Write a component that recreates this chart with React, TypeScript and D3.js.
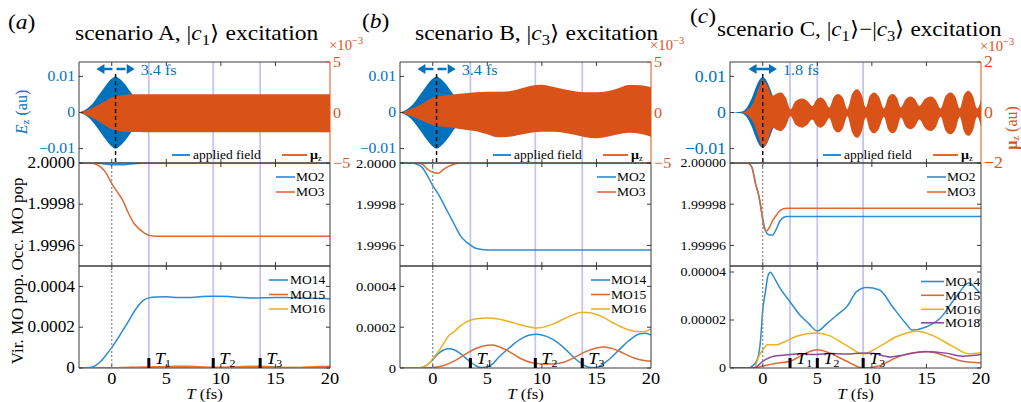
import React from 'react';
import * as d3 from 'd3';

const FONT = "'Liberation Serif','Times New Roman',Times,serif";
const BLUE = '#0072BD';
const ORANGE = '#D95319';
const L_BLUE = '#2f8bd2';
const L_ORANGE = '#dd6a36';
const L_YELLOW = '#EDB120';
const L_PURPLE = '#8a4a9e';
const LAVENDER = '#c2c2f4';
const AX = '#3a3a3a';

// ---------------- data ----------------
const T_DOMAIN = [-3, 20];
const X_TICKS = [0, 5, 10, 15, 20];
const X_TICK_LABELS = ['0', '5', '10', '15', '20'];

const E_TICKS = [-0.01, 0, 0.01];
const E_TICK_LABELS = ['\u22120.01', '0', '0.01'];
const MU_TICKS_AB = [-5, 0, 5];
const MU_TICK_LABELS_AB = ['\u22125', '0', '5'];
const MU_TICKS_C = [-2, 0, 2];
const MU_TICK_LABELS_C = ['\u22122', '0', '2'];
const OCC_TICKS_AB = [1.9996, 1.9998, 2.0];
const OCC_TICK_LABELS_AB = ['1.9996', '1.9998', '2.0000'];
const OCC_TICKS_C = [1.99996, 1.99998, 2.0];
const OCC_TICK_LABELS_C = ['1.99996', '1.99998', '2.00000'];
const VIR_TICKS_AB = [0, 0.0002, 0.0004];
const VIR_TICK_LABELS_AB = ['0', '0.0002', '0.0004'];
const VIR_TICKS_C = [0, 0.00002, 0.00004];
const VIR_TICK_LABELS_C = ['0', '0.00002', '0.00004'];

// applied-field envelopes (au)
const FIELD_T_AB = [-3, -2.5, -2, -1.5, -1, -0.5, 0, 0.35, 0.7, 1.2, 1.7, 2.2, 2.7, 3.2, 3.7, 20];
const FIELD_ENV_AB = [0, 0.0006, 0.0017, 0.0035, 0.0056, 0.0077, 0.0094, 0.01, 0.0094, 0.0079, 0.0058, 0.0037, 0.0019, 0.0007, 0, 0];
const FIELD_T_C = [-3, -2, -1.5, -1, -0.75, -0.5, -0.25, 0, 0.25, 0.5, 0.75, 1, 1.5, 2, 3, 20];
const FIELD_ENV_C = [0, 0.0002, 0.0012, 0.004, 0.006, 0.0079, 0.0093, 0.0098, 0.0093, 0.0079, 0.006, 0.004, 0.0012, 0.0002, 0, 0];

// dipole envelopes (x 1e-3 au)
const MU_T_A = [-3, -2.5, -2, -1.5, -1, -0.5, 0, 0.5, 1, 1.5, 2, 3, 5, 10, 15, 20];
const MU_UP_A = [0, 0.15, 0.35, 0.6, 0.9, 1.2, 1.5, 1.65, 1.74, 1.78, 1.8, 1.8, 1.8, 1.8, 1.8, 1.8];
const MU_LO_A = [0, -0.18, -0.42, -0.7, -1.02, -1.35, -1.65, -1.8, -1.88, -1.92, -1.94, -1.95, -1.95, -1.95, -1.95, -1.95];

const MU_T_B = [-3, -2, -1, 0, 1, 2, 3, 4, 5, 6, 7, 8, 9, 10, 11, 12, 13, 14, 15, 16, 17, 18, 19, 20];
const MU_UP_B = [0, 0.35, 0.85, 1.45, 1.7, 1.8, 1.9, 2.0, 2.05, 2.05, 2.1, 2.35, 2.65, 2.75, 2.55, 2.3, 2.1, 2.0, 2.0, 2.1, 2.4, 2.72, 2.7, 2.5];
const MU_LO_B = [0, -0.35, -0.8, -1.25, -1.4, -1.55, -1.7, -1.85, -2.15, -2.45, -2.4, -2.2, -2.0, -1.9, -1.9, -2.0, -2.2, -2.45, -2.55, -2.4, -2.15, -2.0, -2.1, -2.4];

const MU_T_C = [-3, -2, -1.4, -0.8, -0.35, 0, 0.45, 0.9, 1.25, 1.65, 2.1, 2.55, 3.0, 3.6, 4.1, 4.55, 4.9, 5.3, 5.7, 6.1, 6.5, 6.9, 7.35, 7.75, 8.2, 8.65, 9.05, 9.45, 9.8, 10.2, 10.65, 11.1, 11.5, 11.9, 12.3, 12.65, 13.1, 13.55, 13.95, 14.35, 14.85, 15.4, 15.85, 16.3, 16.75, 17.2, 17.65, 18.05, 18.45, 18.85, 19.25, 19.65, 20];
const MU_UP_C = [0, 0, 0.1, 0.46, 0.99, 1.29, 1.05, 0.66, 0.74, 0.79, 0.6, 0.13, 0.45, 0.55, 0.45, 0.26, 0.5, 0.59, 0.48, 0.2, 0.6, 0.73, 0.58, 0.13, 0.75, 0.92, 0.72, 0.2, 0.65, 0.79, 0.62, 0.16, 0.6, 0.73, 0.58, 0.2, 0.52, 0.63, 0.52, 0.26, 0.53, 0.63, 0.5, 0.16, 0.65, 0.79, 0.62, 0.16, 0.7, 0.86, 0.66, 0.16, 0.5];
const MU_LO_C = [0, 0, -0.1, -0.46, -1.0, -1.39, -1.15, -0.6, -0.68, -0.73, -0.55, -0.15, -0.48, -0.6, -0.48, -0.28, -0.5, -0.6, -0.48, -0.22, -0.65, -0.79, -0.62, -0.15, -0.8, -1.0, -0.78, -0.2, -0.68, -0.82, -0.64, -0.17, -0.68, -0.82, -0.65, -0.2, -0.55, -0.66, -0.55, -0.28, -0.6, -0.73, -0.58, -0.17, -0.72, -0.86, -0.68, -0.17, -0.75, -0.92, -0.72, -0.17, -0.55];

// occupied MO populations
const OCC_T_AB = [-3, -2, -1.5, -1, -0.5, 0, 0.5, 1, 1.5, 2, 2.5, 3, 3.5, 4, 5, 8, 12, 16, 20];
const A_MO2 = [2, 2, 2, 1.999997, 1.999994, 1.999992, 1.999991, 1.999992, 1.999994, 1.999996, 1.999998, 2, 2, 2, 2, 2, 2, 2, 2];
const A_MO3 = [2, 2, 1.999995, 1.99998, 1.99995, 1.9999, 1.99986, 1.99982, 1.99976, 1.99971, 1.99968, 1.99966, 1.999648, 1.999645, 1.999645, 1.999645, 1.999645, 1.999645, 1.999645];
const B_MO2 = [2, 2, 1.999995, 1.99998, 1.99994, 1.99989, 1.99985, 1.9998, 1.99975, 1.9997, 1.99965, 1.99962, 1.9996, 1.999585, 1.999578, 1.999578, 1.999578, 1.999578, 1.999578];
const B_MO3 = [2, 2, 2, 1.999995, 1.99997, 1.999955, 1.99995, 1.99997, 1.999985, 1.999995, 2, 2, 2, 2, 2, 2, 2, 2, 2];
const OCC_T_C = [-3, -2, -1.4, -1, -0.66, -0.4, -0.2, 0, 0.15, 0.35, 0.64, 0.9, 1.16, 1.6, 2.2, 3, 5, 10, 15, 20];
const C_MO2 = [2, 2, 2, 1.999998, 1.99999, 1.999985, 1.999979, 1.999973, 1.999969, 1.999966, 1.999965, 1.999965, 1.999967, 1.999972, 1.999974, 1.999974, 1.999974, 1.999974, 1.999974, 1.999974];
const C_MO3 = [2, 2, 2, 1.999998, 1.99999, 1.999985, 1.99998, 1.999972, 1.999968, 1.999967, 1.999969, 1.999972, 1.999974, 1.999977, 1.999978, 1.999978, 1.999978, 1.999978, 1.999978, 1.999978];

// virtual MO populations
const VIR_T_A = [-3, -2, -1.5, -1, -0.5, 0, 0.5, 1, 1.5, 2, 2.5, 3, 3.5, 4, 5, 6, 7, 8, 9, 10, 11, 12, 13, 14, 15, 16, 17, 18, 19, 20];
const A_MO14 = [0, 0.000003, 0.000012, 0.000033, 0.000065, 0.0001, 0.00014, 0.000183, 0.000226, 0.000272, 0.00031, 0.000335, 0.000345, 0.000348, 0.000349, 0.000346, 0.000345, 0.000349, 0.000352, 0.000352, 0.000349, 0.000345, 0.000343, 0.000344, 0.000346, 0.000345, 0.000344, 0.000342, 0.000341, 0.00034];
const A_MO15 = [0, 0, 0, 0, 0, 0, 0.000001, 0.000002, 0.000003, 0.000004, 0.000004, 0.000005, 0.000005, 0.000006, 0.000007, 0.000008, 0.000008, 0.000006, 0.000004, 0.000004, 0.000005, 0.000007, 0.000008, 0.000007, 0.000005, 0.000003, 0.000003, 0.000005, 0.000007, 0.000008];
const A_MO16 = [0, 0, 0, 0, 0, 0, 0.000001, 0.000001, 0.000002, 0.000002, 0.000002, 0.000003, 0.000003, 0.000003, 0.000003, 0.000002, 0.000002, 0.000003, 0.000003, 0.000002, 0.000002, 0.000003, 0.000003, 0.000002, 0.000002, 0.000003, 0.000003, 0.000002, 0.000002, 0.000003];

const B_MO14_T = [-3, -2, -1, -0.5, 0, 0.5, 1, 1.5, 2, 2.5, 3, 3.5, 4, 4.5, 5, 5.5, 6, 7, 8, 9, 9.5, 10, 11, 12, 13, 14, 14.5, 15, 16, 17, 18, 19, 19.5, 20];
const B_MO14 = [0, 0, 0.000003, 0.000015, 0.00004, 0.00007, 0.000088, 0.000094, 0.000088, 0.000072, 0.00005, 0.000028, 0.00001, 0.000002, 0.000006, 0.00002, 0.00005, 0.000098, 0.00014, 0.000163, 0.000165, 0.000162, 0.00014, 0.0001, 0.000048, 0.00001, 0.000002, 0.000003, 0.000035, 0.000085, 0.000135, 0.000168, 0.00017, 0.000162];
const B_MO15_T = [-3, -1, -0.5, 0, 1, 2, 3, 4, 5, 5.5, 6, 7, 8, 9, 10, 11, 12, 13, 14, 15, 15.7, 16.5, 17.5, 18.5, 19.5, 20];
const B_MO15 = [0, 0, 0, 0.000002, 0.000012, 0.000035, 0.000068, 0.000097, 0.000112, 0.000113, 0.000105, 0.00008, 0.000048, 0.000027, 0.00002, 0.00002, 0.000028, 0.000052, 0.00008, 0.000098, 0.000103, 0.000095, 0.000072, 0.000048, 0.000036, 0.000034];
const B_MO16_T = [-3, -2, -1, -0.5, 0, 0.5, 1, 1.5, 2, 2.5, 3, 3.5, 4, 5, 6, 7, 8, 9, 9.5, 10, 11, 12, 13, 13.7, 14.5, 15.5, 16.5, 17.5, 18.5, 19.3, 20];
const B_MO16 = [0, 0, 0.000003, 0.000015, 0.000045, 0.00008, 0.00012, 0.00016, 0.00018, 0.000205, 0.000222, 0.000235, 0.000242, 0.000245, 0.00024, 0.000228, 0.000212, 0.0002, 0.000196, 0.000198, 0.000215, 0.00024, 0.000264, 0.000273, 0.00027, 0.000252, 0.000222, 0.000196, 0.00018, 0.000178, 0.00019];

const C_MO14_T = [-3, -1.4, -1, -0.5, -0.2, 0, 0.25, 0.46, 0.7, 1.16, 1.6, 2.5, 3.4, 4.2, 5, 5.9, 6.8, 7.7, 8.6, 9.5, 10.7, 11.9, 13.1, 13.7, 14.9, 16.2, 17.7, 18.9, 19.8, 20];
const C_MO14 = [0, 0, 0.0000007, 0.0000035, 0.0000117, 0.0000242, 0.0000318, 0.000038, 0.0000399, 0.0000367, 0.0000332, 0.0000276, 0.0000221, 0.0000186, 0.0000154, 0.0000186, 0.0000221, 0.0000255, 0.0000318, 0.0000335, 0.0000325, 0.0000255, 0.0000186, 0.0000158, 0.000017, 0.0000205, 0.0000295, 0.0000354, 0.0000318, 0.000031];
const C_MO15_T = [-3, -0.8, 0, 1, 2.5, 4, 5, 6.1, 7.7, 9.2, 10.7, 12.2, 13.7, 15.2, 16.8, 18.3, 20];
const C_MO15 = [0, 0, 0.0000008, 0.0000018, 0.0000028, 0.0000063, 0.0000076, 0.0000063, 0.0000028, 0, 0.000001, 0.0000042, 0.0000063, 0.0000068, 0.0000049, 0.0000028, 0.0000021];
const C_MO16_T = [-3, -0.8, -0.35, 0, 0.46, 1.3, 1.9, 3.1, 4.9, 6.1, 7.7, 9.2, 10.7, 12.2, 14.1, 15.6, 17.4, 18.9, 20];
const C_MO16 = [0, 0, 0.0000049, 0.0000076, 0.0000097, 0.0000097, 0.0000107, 0.0000132, 0.0000146, 0.0000135, 0.0000093, 0.0000058, 0.000009, 0.0000129, 0.0000153, 0.0000135, 0.000009, 0.0000059, 0.0000065];
const C_MO18_T = [-3, -0.8, 0, 1, 1.9, 3.1, 4.9, 6.1, 7.7, 9.2, 10.2, 11.7, 13.1, 14.9, 16.8, 18.3, 20];
const C_MO18 = [0, 0, 0.0000028, 0.0000049, 0.0000053, 0.0000058, 0.0000056, 0.000006, 0.0000058, 0.0000063, 0.000006, 0.0000046, 0.0000056, 0.0000069, 0.0000062, 0.0000049, 0.0000056];

// characteristic times T1, T2, T3 (fs)
const T_MARKS_A = [3.4, 9.3, 13.6];
const T_MARKS_B = [3.45, 9.4, 13.7];
const T_MARKS_C = [2.5, 5.0, 9.2];

// ---------------- layout ----------------
const W = 1021;
const H = 402;
const PW = 251;
const Y1 = [62, 163];
const Y2 = [163, 266];
const Y3 = [266, 368];

type S = { t: number[]; v: number[]; color: string; name: string };

function Txt(props: any) {
  const { x, y, size, anchor = 'start', sx = 1.08, fill = '#000', children, base = 'central', italic, weight } = props;
  return (
    <text
      transform={`translate(${x},${y}) scale(${sx},1)`}
      fontSize={size}
      textAnchor={anchor}
      fill={fill}
      fontFamily={FONT}
      dominantBaseline={base}
      fontStyle={italic ? 'italic' : undefined}
      fontWeight={weight}
    >
      {children}
    </text>
  );
}

const PANELS = [
  {
    id: 'a', left: 79, label: '(a)', labelX: 8, labelY: 29, titleX: 75, titleY: 40, titleSx: 1.12, multY: 50,
    title: 'A', fieldT: FIELD_T_AB, fieldEnv: FIELD_ENV_AB, peak: 0.35, arrowHalf: 1.75, dashedArrow: true, fwhm: '3.4 fs',
    muT: MU_T_A, muUp: MU_UP_A, muLo: MU_LO_A, muMax: 5, muTicks: MU_TICKS_AB, muLabels: MU_TICK_LABELS_AB,
    occDomain: [1.9995, 2.0], occTicks: OCC_TICKS_AB, occLabels: OCC_TICK_LABELS_AB,
    occ: [{ t: OCC_T_AB, v: A_MO2, color: L_BLUE, name: 'MO2' }, { t: OCC_T_AB, v: A_MO3, color: L_ORANGE, name: 'MO3' }],
    virDomain: [0, 0.0005], virTicks: VIR_TICKS_AB, virLabels: VIR_TICK_LABELS_AB,
    vir: [{ t: VIR_T_A, v: A_MO14, color: L_BLUE, name: 'MO14' }, { t: VIR_T_A, v: A_MO15, color: L_ORANGE, name: 'MO15' }, { t: VIR_T_A, v: A_MO16, color: L_YELLOW, name: 'MO16' }],
    marks: T_MARKS_A, leftTitles: true, rightTitle: false, legY: [280, 294.5, 309], legText: 40, legLine: [61, 42],
    fsTop: 14.5, fsRight: 15, fsMid: 16,
  },
  {
    id: 'b', left: 400, label: '(b)', labelX: 362, labelY: 28, titleX: 415, titleY: 40, titleSx: 1.12, multY: 50,
    title: 'B', fieldT: FIELD_T_AB, fieldEnv: FIELD_ENV_AB, peak: 0.35, arrowHalf: 1.75, dashedArrow: true, fwhm: '3.4 fs',
    muT: MU_T_B, muUp: MU_UP_B, muLo: MU_LO_B, muMax: 5, muTicks: MU_TICKS_AB, muLabels: MU_TICK_LABELS_AB,
    occDomain: [1.9995, 2.0], occTicks: OCC_TICKS_AB, occLabels: OCC_TICK_LABELS_AB,
    occ: [{ t: OCC_T_AB, v: B_MO2, color: L_BLUE, name: 'MO2' }, { t: OCC_T_AB, v: B_MO3, color: L_ORANGE, name: 'MO3' }],
    virDomain: [0, 0.0005], virTicks: VIR_TICKS_AB, virLabels: VIR_TICK_LABELS_AB,
    vir: [{ t: B_MO14_T, v: B_MO14, color: L_BLUE, name: 'MO14' }, { t: B_MO15_T, v: B_MO15, color: L_ORANGE, name: 'MO15' }, { t: B_MO16_T, v: B_MO16, color: L_YELLOW, name: 'MO16' }],
    marks: T_MARKS_B, leftTitles: false, rightTitle: false, legY: [280, 294.5, 309], legText: 40, legLine: [60, 41],
    fsTop: 14.5, fsRight: 15, fsMid: 13.5,
  },
  {
    id: 'c', left: 730, label: '(c)', labelX: 690, labelY: 23, titleX: 717, titleY: 36, titleSx: 1.1, multY: 51,
    title: 'C', fieldT: FIELD_T_C, fieldEnv: FIELD_ENV_C, peak: 0, arrowHalf: 1.3, dashedArrow: false, fwhm: '1.8 fs',
    muT: MU_T_C, muUp: MU_UP_C, muLo: MU_LO_C, muMax: 2, muTicks: MU_TICKS_C, muLabels: MU_TICK_LABELS_C,
    occDomain: [1.99995, 2.0], occTicks: OCC_TICKS_C, occLabels: OCC_TICK_LABELS_C,
    occ: [{ t: OCC_T_C, v: C_MO2, color: L_BLUE, name: 'MO2' }, { t: OCC_T_C, v: C_MO3, color: L_ORANGE, name: 'MO3' }],
    virDomain: [0, 0.0000425], virTicks: VIR_TICKS_C, virLabels: VIR_TICK_LABELS_C,
    vir: [{ t: C_MO14_T, v: C_MO14, color: L_BLUE, name: 'MO14' }, { t: C_MO15_T, v: C_MO15, color: L_ORANGE, name: 'MO15' }, { t: C_MO16_T, v: C_MO16, color: L_YELLOW, name: 'MO16' }, { t: C_MO18_T, v: C_MO18, color: L_PURPLE, name: 'MO18' }],
    marks: T_MARKS_C, leftTitles: false, rightTitle: true, legY: [281.5, 295.3, 309.3, 322.8], legText: 36, legLine: [60, 37],
    fsTop: 16.5, fsRight: 16.5, fsMid: 13,
  },
];

function Title({ p }: any) {
  const s = 21;
  const sub = (n: string) => [
    <tspan key={'a' + n} dy={5} fontSize={15}>{n}</tspan>,
    <tspan key={'b' + n} dy={-5}>{'\u27E9'}</tspan>,
  ];
  return (
    <g>
      <Txt x={p.labelX} y={p.labelY} size={s} base="alphabetic" sx={1.12} italic={false}>
        (<tspan fontStyle="italic">{p.label[1]}</tspan>)
      </Txt>
      <Txt x={p.titleX} y={p.titleY} size={s} base="alphabetic" sx={p.titleSx}>
        {p.id === 'c' ? (
          <>
            {'scenario C, |'}<tspan fontStyle="italic">c</tspan>{sub('1')}{'\u2212|'}<tspan fontStyle="italic">c</tspan>{sub('3')}{' excitation'}
          </>
        ) : (
          <>
            {`scenario ${p.title}, |`}<tspan fontStyle="italic">c</tspan>{sub(p.id === 'a' ? '1' : '3')}{' excitation'}
          </>
        )}
      </Txt>
    </g>
  );
}

function Frame({ x, y0, y1, L, R, rightColor }: any) {
  const tk = 4;
  const xt = X_TICKS.filter((t) => x(t) > L + 1 && x(t) < R - 1);
  return (
    <g>
      <line x1={L} x2={R} y1={y0} y2={y0} stroke={AX} strokeWidth={1} />
      <line x1={L} x2={R} y1={y1} y2={y1} stroke={AX} strokeWidth={1} />
      <line x1={L} x2={L} y1={y0} y2={y1} stroke={AX} strokeWidth={1} />
      <line x1={R} x2={R} y1={y0} y2={y1} stroke={rightColor || AX} strokeWidth={1} />
      {xt.map((t) => (
        <g key={t}>
          <line x1={x(t)} x2={x(t)} y1={y0} y2={y0 + tk} stroke={AX} strokeWidth={1} />
          <line x1={x(t)} x2={x(t)} y1={y1} y2={y1 - tk} stroke={AX} strokeWidth={1} />
        </g>
      ))}
    </g>
  );
}

function YTicks({ y, ticks, labels, L, R, color, side, size, tickColor }: any) {
  const tk = 4;
  return (
    <g>
      {ticks.map((v: number, i: number) => (
        <g key={i}>
          {side === 'left' ? (
            <>
              <line x1={L} x2={L + tk} y1={y(v)} y2={y(v)} stroke={tickColor || AX} />
              <Txt x={L - 4} y={y(v)} size={size} anchor="end" fill={color}>{labels[i]}</Txt>
            </>
          ) : (
            <>
              <line x1={R} x2={R - tk} y1={y(v)} y2={y(v)} stroke={tickColor || AX} />
              {labels ? <Txt x={R + 3} y={y(v)} size={size} anchor="start" fill={color}>{labels[i]}</Txt> : null}
            </>
          )}
        </g>
      ))}
    </g>
  );
}

function Panel({ p }: any) {
  const L = p.left;
  const R = L + PW;
  const x = d3.scaleLinear().domain(T_DOMAIN).range([L, R]);
  const yE = d3.scaleLinear().domain([-0.014, 0.014]).range([Y1[1], Y1[0]]);
  const yMu = d3.scaleLinear().domain([-p.muMax, p.muMax]).range([Y1[1], Y1[0]]);
  const yO = d3.scaleLinear().domain(p.occDomain).range([Y2[1], Y2[0]]);
  const yV = d3.scaleLinear().domain(p.virDomain).range([Y3[1], Y3[0]]);

  const fieldArea = d3
    .area<number>()
    .x((_, i) => x(p.fieldT[i]))
    .y0((d) => yE(-d))
    .y1((d) => yE(d))
    .curve(d3.curveMonotoneX)(p.fieldEnv);
  const muArea = d3
    .area<number>()
    .x((_, i) => x(p.muT[i]))
    .y0((_, i) => yMu(p.muLo[i]))
    .y1((_, i) => yMu(p.muUp[i]))
    .curve(d3.curveMonotoneX)(p.muUp);

  const linePath = (s: S, y: any) =>
    d3
      .line<number>()
      .x((_, i) => x(s.t[i]))
      .y((d) => y(d))
      .curve(d3.curveMonotoneX)(s.v) as string;

  const cid = `clip-${p.id}`;
  const arrowY = 69;
  const aL = x(p.peak - p.arrowHalf);
  const aR = x(p.peak + p.arrowHalf);
  const head = 8;
  const hw = 5;

  return (
    <g>
      <defs>
        <clipPath id={`${cid}-1`}><rect x={L} y={Y1[0]} width={PW} height={Y1[1] - Y1[0]} /></clipPath>
        <clipPath id={`${cid}-2`}><rect x={L} y={Y2[0]} width={PW} height={Y2[1] - Y2[0]} /></clipPath>
        <clipPath id={`${cid}-3`}><rect x={L} y={Y3[0]} width={PW} height={Y3[1] - Y3[0]} /></clipPath>
      </defs>

      {/* lavender markers */}
      {p.marks.map((t: number, i: number) => (
        <line key={i} x1={x(t)} x2={x(t)} y1={Y1[0]} y2={Y3[1]} stroke={LAVENDER} strokeWidth={1.7} />
      ))}

      {/* top subplot */}
      <g clipPath={`url(#${cid}-1)`}>
        <path d={fieldArea as string} fill={BLUE} />
        <path d={muArea as string} fill={ORANGE} />
      </g>
      <line x1={x(p.peak)} x2={x(p.peak)} y1={arrowY + 5} y2={Y1[1]} stroke="#111" strokeWidth={1.5} strokeDasharray="4 3" />
      {/* FWHM arrow */}
      <line
        x1={aL + head - 1}
        x2={aR - head + 1}
        y1={arrowY}
        y2={arrowY}
        stroke={BLUE}
        strokeWidth={2.6}
        strokeDasharray={p.dashedArrow ? '9 4' : undefined}
      />
      <path d={`M${aL},${arrowY} L${aL + head},${arrowY - hw} L${aL + head},${arrowY + hw} Z`} fill={BLUE} />
      <path d={`M${aR},${arrowY} L${aR - head},${arrowY - hw} L${aR - head},${arrowY + hw} Z`} fill={BLUE} />
      <Txt x={aR + 6} y={arrowY + 1} size={15} fill={BLUE}>{p.fwhm}</Txt>

      {/* top legend */}
      <line x1={L + 93} x2={L + 111} y1={155} y2={155} stroke={L_BLUE} strokeWidth={2} />
      <Txt x={L + 114} y={155} size={12.5}>applied field</Txt>
      <line x1={L + 203} x2={L + 228} y1={155} y2={155} stroke={L_ORANGE} strokeWidth={2} />
      <Txt x={L + 231} y={155} size={13} weight="bold">
        {'\u03BC'}<tspan dy={3} fontSize={8} fontWeight="normal">z</tspan>
      </Txt>

      <Frame x={x} y0={Y1[0]} y1={Y1[1]} L={L} R={R} rightColor={ORANGE} />
      <YTicks y={yE} ticks={E_TICKS} labels={E_TICK_LABELS} L={L} R={R} color={BLUE} side="left" size={p.fsTop} />
      <YTicks y={yMu} ticks={p.muTicks} labels={p.muLabels} L={L} R={R} color={ORANGE} side="right" size={p.fsRight} tickColor={ORANGE} />
      <Txt x={R - 1} y={p.multY} size={14} fill={ORANGE} base="alphabetic" sx={1.05}>
        {'\u00D710'}<tspan dy={-6} fontSize={10}>{'\u22123'}</tspan>
      </Txt>

      {/* middle subplot */}
      <g clipPath={`url(#${cid}-2)`}>
        {p.occ.map((s: S) => (
          <path key={s.name} d={linePath(s, yO)} fill="none" stroke={s.color} strokeWidth={1.5} />
        ))}
      </g>
      {p.occ.map((s: S, i: number) => (
        <g key={s.name}>
          <line x1={R - 54} x2={R - 35} y1={177 + i * 15} y2={177 + i * 15} stroke={s.color} strokeWidth={1.6} />
          <Txt x={R - 34} y={177 + i * 15} size={12.5}>{s.name}</Txt>
        </g>
      ))}
      <Frame x={x} y0={Y2[0]} y1={Y2[1]} L={L} R={R} />
      <YTicks y={yO} ticks={p.occTicks} labels={p.occLabels} L={L} R={R} color="#000" side="left" size={p.fsMid} />
      <YTicks y={yO} ticks={p.occTicks} labels={null} L={L} R={R} side="right" />

      {/* bottom subplot */}
      <g clipPath={`url(#${cid}-3)`}>
        {p.vir.map((s: S) => (
          <path key={s.name} d={linePath(s, yV)} fill="none" stroke={s.color} strokeWidth={1.5} />
        ))}
      </g>
      {p.vir.map((s: S, i: number) => (
        <g key={s.name}>
          <line x1={R - p.legLine[0]} x2={R - p.legLine[1]} y1={p.legY[i]} y2={p.legY[i]} stroke={s.color} strokeWidth={1.6} />
          <Txt x={R - p.legText} y={p.legY[i]} size={12.5}>{s.name}</Txt>
        </g>
      ))}
      <Frame x={x} y0={Y3[0]} y1={Y3[1]} L={L} R={R} />
      <YTicks y={yV} ticks={p.virTicks} labels={p.virLabels} L={L} R={R} color="#000" side="left" size={p.fsMid} />
      <YTicks y={yV} ticks={p.virTicks} labels={null} L={L} R={R} side="right" />

      {/* zero-time dotted line */}
      <line x1={x(0)} x2={x(0)} y1={Y2[0]} y2={Y3[1]} stroke="#8a8a8a" strokeWidth={1.2} strokeDasharray="2 2" />

      {/* T markers */}
      {p.marks.map((t: number, i: number) => (
        <g key={i}>
          <rect x={x(t) - 1.5} y={358} width={3} height={10} fill="#000" />
          <Txt x={x(t) + 6} y={358} size={17} base="central">
            <tspan fontStyle="italic">T</tspan>
            <tspan dy={5} fontSize={11}>{String(i + 1)}</tspan>
          </Txt>
        </g>
      ))}

      {/* x tick labels */}
      {X_TICKS.map((t, i) => (
        <Txt key={t} x={x(t)} y={378} size={17} anchor="middle">{X_TICK_LABELS[i]}</Txt>
      ))}
      <Txt x={x(8.5)} y={393.5} size={15.5} anchor="middle">
        <tspan fontStyle="italic">T</tspan>{' (fs)'}
      </Txt>

      {/* axis titles */}
      {p.leftTitles ? (
        <g>
          <text transform="translate(21,112) rotate(-90)" fontSize={16} fontFamily={FONT} textAnchor="middle" fill={BLUE} dominantBaseline="central">
            <tspan fontStyle="italic">E</tspan>
            <tspan dy={4} fontSize={11}>z</tspan>
            <tspan dy={-4}>{' (au)'}</tspan>
          </text>
          <text transform="translate(17,224) rotate(-90)" fontSize={17} fontFamily={FONT} textAnchor="middle" fill="#000" dominantBaseline="central">
            Occ. MO pop
          </text>
          <text transform="translate(17,319) rotate(-90)" fontSize={17} fontFamily={FONT} textAnchor="middle" fill="#000" dominantBaseline="central">
            Vir. MO pop.
          </text>
        </g>
      ) : null}
      {p.rightTitle ? (
        <text transform={`translate(${R + 30},128) rotate(-90)`} fontSize={16} fontFamily={FONT} textAnchor="middle" fill={ORANGE} dominantBaseline="central">
          <tspan fontWeight="bold">{'\u03BC'}</tspan>
          <tspan dy={4} fontSize={11}>z</tspan>
          <tspan dy={-4}>{' (au)'}</tspan>
        </text>
      ) : null}

      <Title p={p} />
    </g>
  );
}

export default function App() {
  return (
    <svg
      width={W}
      height={H}
      viewBox={`0 0 ${W} ${H}`}
      style={{ position: 'absolute', left: 0, top: 0, background: '#fff' }}
    >
      <rect x={0} y={0} width={W} height={H} fill="#fff" />
      {PANELS.map((p) => (
        <Panel key={p.id} p={p} />
      ))}
    </svg>
  );
}
